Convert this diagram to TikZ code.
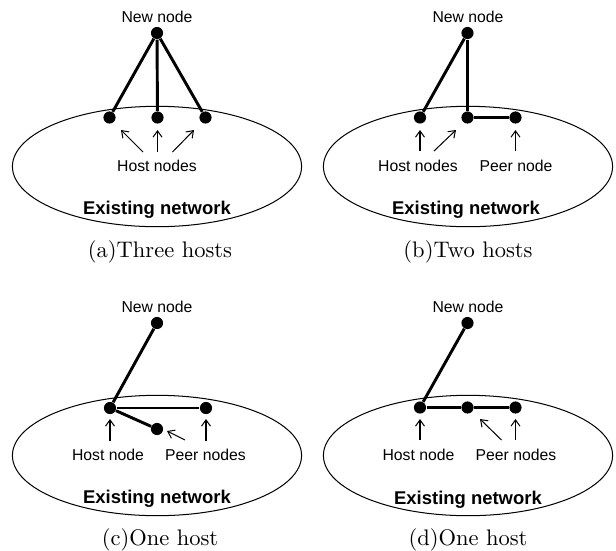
\documentclass[tikz,border=0pt]{standalone}
\usepackage{fontspec}
\newfontfamily\arialfont{Liberation Sans}
\usetikzlibrary{arrows.meta,shapes.geometric}

\begin{document}
\begin{tikzpicture}[
  x=0.4444pt,y=-0.4444pt,
  >={Straight Barb[length=2.8pt,width=4pt]},
  dot/.style={circle,fill=black,minimum size=5.4pt,inner sep=0pt},
  link/.style={line width=1.3pt},
  ptr/.style={->,line width=0.45pt},
  net/.style={ellipse,draw,line width=0.45pt,minimum width=128.5pt,minimum height=53.5pt,inner sep=0pt},
  lbl/.style={font=\arialfont\fontsize{7}{8}\selectfont,inner sep=0pt},
  netlbl/.style={font=\arialfont\bfseries\fontsize{8.2}{9}\selectfont,inner sep=0pt},
  subcap/.style={font=\normalsize,inner sep=0pt}
]
\useasboundingbox (0,0) rectangle (616,550);

% (a) three hosts
\node[net] (neta) at (157,166.5) {};
\node[dot] (newa) at (157,33) {};
\node[lbl] (newlbla) at (157,17) {New node};
\node[dot] (ha1) at (109.5,117.5) {};
\node[dot] (ha2) at (157.5,117.5) {};
\node[dot] (ha3) at (205.5,117.5) {};
\node[lbl] (hlbla) at (157,166) {Host nodes};
\node[netlbl] (netlbla) at (157,210) {Existing network};
\node[subcap] (capa) at (160,252) {(a)Three hosts};
\draw[link] (newa) -- (ha1);
\draw[link] (newa) -- (ha2);
\draw[link] (newa) -- (ha3);
\coordinate (ta1) at (143,152); \coordinate (sa1) at (121,130);
\coordinate (ta2) at (157.5,152); \coordinate (sa2) at (157.5,130);
\coordinate (ta3) at (172.5,152); \coordinate (sa3) at (194,130);
\draw[ptr] (ta1) -- (sa1);
\draw[ptr] (ta2) -- (sa2);
\draw[ptr] (ta3) -- (sa3);

% (b) two hosts
\node[net] (netb) at (468,166.5) {};
\node[dot] (newb) at (467.5,33) {};
\node[lbl] (newlblb) at (468,17) {New node};
\node[dot] (hb1) at (420,117.5) {};
\node[dot] (hb2) at (467.5,117.5) {};
\node[dot] (pb1) at (515.5,117.5) {};
\node[lbl] (hlblb) at (418,166) {Host nodes};
\node[lbl] (plblb) at (516,166) {Peer node};
\node[netlbl] (netlblb) at (466,210) {Existing network};
\node[subcap] (capb) at (468,252) {(b)Two hosts};
\draw[link] (newb) -- (hb1);
\draw[link] (newb) -- (hb2);
\draw[link] (hb2) -- (pb1);
\coordinate (tb1) at (420,151); \coordinate (sb1) at (420,130);
\coordinate (tb2) at (434,151); \coordinate (sb2) at (456,130);
\coordinate (tb3) at (515.5,151); \coordinate (sb3) at (515.5,130);
\draw[ptr] (tb1) -- (sb1);
\draw[ptr] (tb2) -- (sb2);
\draw[ptr] (tb3) -- (sb3);

% (c) one host, two peers
\node[net] (netc) at (157,455.5) {};
\node[dot] (newc) at (157,323) {};
\node[lbl] (newlblc) at (157,307) {New node};
\node[dot] (hc1) at (110,408) {};
\node[dot] (pc1) at (206,408) {};
\node[dot] (pc2) at (157,429) {};
\node[lbl] (hlblc) at (108,455) {Host node};
\node[lbl] (plblc) at (205.5,455) {Peer nodes};
\node[netlbl] (netlblc) at (157,499) {Existing network};
\node[subcap] (capc) at (160,540) {(c)One host};
\draw[link] (newc) -- (hc1);
\draw[link] (hc1) -- (pc1);
\draw[link] (hc1) -- (pc2);
\coordinate (tc1) at (110,441); \coordinate (sc1) at (110,419);
\coordinate (tc2) at (185,440); \coordinate (sc2) at (167,431);
\coordinate (tc3) at (206,441); \coordinate (sc3) at (206,419);
\draw[ptr] (tc1) -- (sc1);
\draw[ptr] (tc2) -- (sc2);
\draw[ptr] (tc3) -- (sc3);

% (d) one host, peers in a row
\node[net] (netd) at (468,455.5) {};
\node[dot] (newd) at (467.5,323) {};
\node[lbl] (newlbld) at (468,307) {New node};
\node[dot] (hd1) at (420,407.5) {};
\node[dot] (pd1) at (467.5,407.5) {};
\node[dot] (pd2) at (515.5,407.5) {};
\node[lbl] (hlbld) at (418.5,455) {Host node};
\node[lbl] (plbld) at (516,455) {Peer nodes};
\node[netlbl] (netlbld) at (468,500) {Existing network};
\node[subcap] (capd) at (468,540) {(d)One host};
\draw[link] (newd) -- (hd1);
\draw[link] (hd1) -- (pd1);
\draw[link] (pd1) -- (pd2);
\coordinate (td1) at (420,440); \coordinate (sd1) at (420,419);
\coordinate (td2) at (501.5,440); \coordinate (sd2) at (480,419);
\coordinate (td3) at (515.5,440); \coordinate (sd3) at (515.5,419);
\draw[ptr] (td1) -- (sd1);
\draw[ptr] (td2) -- (sd2);
\draw[ptr] (td3) -- (sd3);

\end{tikzpicture}
\end{document}
